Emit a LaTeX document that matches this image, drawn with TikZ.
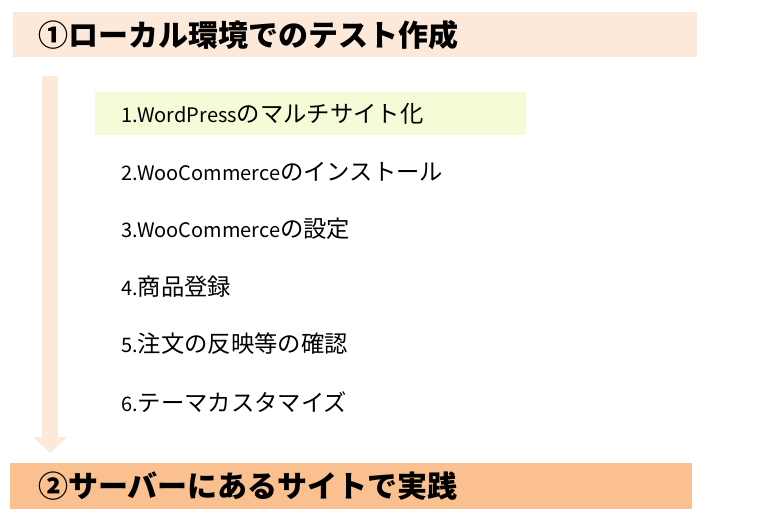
\documentclass[tikz,border=0pt]{standalone}
\usepackage{fontspec}
\setmainfont{Noto Sans CJK JP}
\usetikzlibrary{arrows.meta}
\definecolor{localpeach}{HTML}{FDE9D9}
\definecolor{serverorange}{HTML}{FAC090}
\definecolor{itemlime}{HTML}{F5FBD7}
\newcommand\steplat[1]{{\fontsize{15pt}{15pt}\selectfont #1}}

\tikzset{
  headbar/.style={anchor=north west,inner ysep=0pt,minimum height=33.75pt,
    inner xsep=18.75pt,text width=475.5pt,font=\bfseries\fontsize{22.5pt}{22.5pt}\selectfont},
  stepitem/.style={anchor=west,inner ysep=0pt,minimum height=32.25pt,
    inner xsep=19.5pt,text width=284.25pt,font=\fontsize{17.5pt}{17.5pt}\selectfont},
  flow/.style={draw=localpeach,line width=12pt,-{Triangle[width=25.5pt,length=12pt,line width=0pt]}}
}
\tikzstyle{every node}=[color=black]

\begin{document}
\begin{tikzpicture}[x=0.75pt,y=-0.75pt]
    \useasboundingbox (0,0) rectangle (757,515);
    \node[headbar,fill=localpeach] (local) at (13,12) {①ローカル環境でのテスト作成};
    \node[headbar,fill=serverorange,minimum height=34.5pt,inner xsep=21pt,text width=469.5pt] (server) at (10,463) {②サーバーにあるサイトで実践};
    \coordinate (flowstart) at (50,76);
    \coordinate (flowend) at (50,453);
    \draw[flow] (flowstart) -- (flowend);
    \node[stepitem,fill=itemlime] (multisite) at (95,113.5) {\steplat{1.WordPress}のマルチサイト化};
    \node[stepitem] (install) at (95,172) {\steplat{2.WooCommerce}のインストール};
    \node[stepitem] (settings) at (95,229) {\steplat{3.WooCommerce}の設定};
    \node[stepitem] (products) at (95,287) {\steplat{4.}商品登録};
    \node[stepitem] (orders) at (95,344) {\steplat{5.}注文の反映等の確認};
    \node[stepitem] (theme) at (95,402) {\steplat{6.}テーマカスタマイズ};
\end{tikzpicture}
\end{document}
